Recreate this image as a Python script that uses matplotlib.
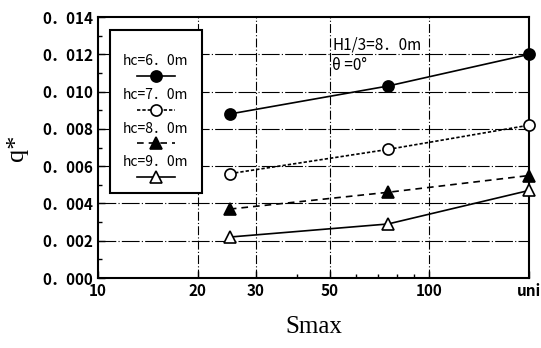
import matplotlib.pyplot as plt
from matplotlib.lines import Line2D
from matplotlib.patches import Rectangle
from matplotlib.ticker import FixedLocator, NullFormatter

smax = [25, 75, 200]
q_hc6 = [0.0088, 0.0103, 0.0120]
q_hc7 = [0.0056, 0.0069, 0.0082]
q_hc8 = [0.0037, 0.0046, 0.0055]
q_hc9 = [0.0022, 0.0029, 0.0047]
labels = ['hc=6．0m', 'hc=7．0m', 'hc=8．0m', 'hc=9．0m']

xticks = [10, 20, 30, 50, 100, 200]
xticklabels = ['10', '20', '30', '50', '100', 'uni']
yticks = [0.000, 0.002, 0.004, 0.006, 0.008, 0.010, 0.012, 0.014]

plt.rcParams['font.family'] = ['Noto Sans CJK JP', 'DejaVu Sans']

fig = plt.figure(figsize=(5.41, 3.48), dpi=100)
ax = fig.add_axes([0.181, 0.201, 0.797, 0.750])

styles = [
    dict(color='black', ls='-', marker='o', mfc='black'),
    dict(color='black', ls=(0, (2, 1.2)), marker='o', mfc='white'),
    dict(color='black', ls=(0, (4, 3)), marker='^', mfc='black'),
    dict(color='black', ls='-', marker='^', mfc='white'),
]
series = [q_hc6, q_hc7, q_hc8, q_hc9]
for ys, st in zip(series, styles):
    ax.plot(smax, ys, lw=1.2, ms=8, mec='black', mew=1.2, clip_on=False, zorder=5, **st)

ax.set_xscale('log')
ax.set_xlim(10, 200)
ax.set_ylim(0, 0.014)
ax.xaxis.set_major_locator(FixedLocator(xticks))
ax.set_xticklabels(xticklabels)
ax.xaxis.set_minor_locator(FixedLocator([40, 60, 70, 80, 90]))
ax.xaxis.set_minor_formatter(NullFormatter())
ax.set_yticks(yticks)
ax.set_yticklabels([('%.3f' % v).replace('.', '．') for v in yticks])
ax.yaxis.set_minor_locator(FixedLocator([0.001, 0.003, 0.005, 0.007, 0.009, 0.011, 0.013]))
ax.tick_params(which='both', direction='in', labelsize=11, width=1)
ax.tick_params(which='major', length=5)
ax.tick_params(which='minor', length=3)
for lab in ax.get_xticklabels() + ax.get_yticklabels():
    lab.set_fontweight('bold')
for sp in ax.spines.values():
    sp.set_linewidth(1.5)

for v in [0.002, 0.004, 0.006, 0.008, 0.010, 0.012]:
    ax.axhline(v, color='black', lw=0.8, ls=(0, (16, 2, 1, 2)), zorder=1)
for v in [20, 30, 50, 100]:
    ax.axvline(v, color='black', lw=0.8, ls=(0, (8, 2, 1, 2)), zorder=1)

ax.set_ylabel('q*', family='Liberation Serif', fontsize=19, labelpad=10)
ax.set_xlabel('Smax', family='Liberation Serif', fontsize=18, labelpad=12)

# legend drawn by hand: text above each sample line
ax.add_patch(Rectangle((0.028, 0.326), 0.213, 0.624, transform=ax.transAxes,
                       facecolor='white', edgecolor='black', lw=1.5, zorder=6))
for i, (lab, st) in enumerate(zip(labels, styles)):
    ty = 0.830 - i * 0.129
    ly = ty - 0.056
    ax.text(0.134, ty, lab, transform=ax.transAxes, ha='center', va='center',
            fontsize=10, zorder=7)
    ax.add_line(Line2D([0.09, 0.179], [ly, ly], transform=ax.transAxes,
                       color='black', lw=1.2, ls=st['ls'], zorder=7))
    ax.add_line(Line2D([0.135], [ly], transform=ax.transAxes, marker=st['marker'],
                       ms=8, mfc=st['mfc'], mec='black', mew=1.2, ls='none', zorder=8))

ax.text(0.543, 0.893, 'H1/3=8．0m', transform=ax.transAxes, ha='left', va='center',
        fontsize=11, zorder=7)
ax.text(0.543, 0.815, 'θ =0°', transform=ax.transAxes, ha='left', va='center',
        fontsize=11, zorder=7)

fig.savefig('out.png', dpi=100)
